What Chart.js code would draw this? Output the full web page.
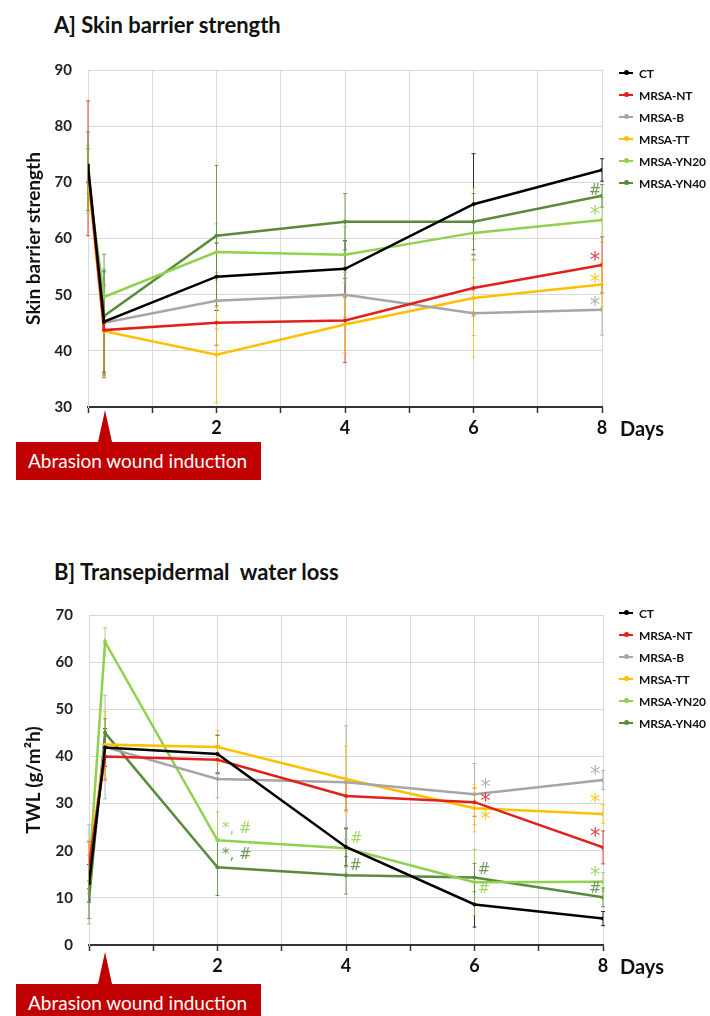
<!DOCTYPE html>
<html>
<head>
<meta charset="utf-8">
<script src="https://cdn.jsdelivr.net/npm/chart.js@4.4.1/dist/chart.umd.min.js"></script>
<style>
  body { margin: 0; width: 710px; height: 1016px; background: #fff; position: relative; overflow: hidden; font-family: Lato, sans-serif; }
  .title { position: absolute; left: 54px; font-weight: bold; font-size: 22px; color: #111; white-space: nowrap; }
  canvas { position: absolute; left: 0; }
  .legend { position: absolute; left: 619px; font-weight: bold; font-size: 12px; letter-spacing: -0.2px; color: #111; white-space: nowrap; }
  .legend div { height: 22px; display: flex; align-items: center; }
  .sw { width: 14px; height: 2px; position: relative; margin-right: 6px; flex: none; }
  .sw i { position: absolute; left: 5px; top: -2px; width: 5px; height: 5px; border-radius: 50%; }
  .days { position: absolute; left: 620px; font-weight: bold; font-size: 20px; color: #111; }
  .box { position: absolute; left: 16px; width: 245px; height: 38px; background: #c00000; color: #fff; font-size: 19px; line-height: 38px; padding-left: 12px; box-sizing: border-box; white-space: nowrap; }
  .box:before { content: ''; position: absolute; left: 82px; top: -32px; border-left: 7px solid transparent; border-right: 7px solid transparent; border-bottom: 32px solid #c00000; }
</style>
</head>
<body>
<div class="title" style="top:11px">A] Skin barrier strength</div>
<canvas id="chartA" width="710" height="400" style="top:40px"></canvas>
<div class="legend" id="legendA" style="top:62px"></div>
<div class="days" style="top:416px">Days</div>
<div class="box" style="top:442px">Abrasion wound induction</div>

<div class="title" style="top:558px">B] Transepidermal&nbsp; water loss</div>
<canvas id="chartB" width="710" height="400" style="top:590px"></canvas>
<div class="legend" id="legendB" style="top:602px"></div>
<div class="days" style="top:954px">Days</div>
<div class="box" style="top:984px">Abrasion wound induction</div>

<script>
// dias de medicion (0.25 = justo despues de la abrasion)
const days = [0, 0.25, 2, 4, 6, 8];
const seriesNames = ['CT', 'MRSA-NT', 'MRSA-B', 'MRSA-TT', 'MRSA-YN20', 'MRSA-YN40'];
const seriesColors = ['#000000', '#e0201c', '#a6a6a6', '#ffc000', '#92d050', '#5a8a3a'];

// A] skin barrier strength
const sbsCT   = [73.0, 45.2, 53.2, 54.6, 66.1, 72.2];
const sbsNT   = [72.5, 43.7, 45.0, 45.4, 51.2, 55.3];
const sbsB    = [72.0, 45.0, 48.9, 50.0, 46.7, 47.3];
const sbsTT   = [71.0, 43.5, 39.3, 44.7, 49.4, 51.8];
const sbsYN20 = [70.5, 49.6, 57.6, 57.1, 61.0, 63.3];
const sbsYN40 = [72.0, 46.2, 60.5, 63.0, 63.0, 67.6];
const sbsErrCT   = [3, 9, 6, 5, 9, 2];
const sbsErrNT   = [12, 8, 4, 7.5, 5, 5];
const sbsErrB    = [4, 9, 5, 4, 4, 4.5];
const sbsErrTT   = [5, 8, 8.5, 5, 10.5, 4];
const sbsErrYN20 = [6, 5, 5, 5, 8, 4];
const sbsErrYN40 = [7, 11, 12.5, 5, 5, 2];

// B] TWL
const twlCT   = [13.1, 41.9, 40.5, 20.8, 8.6, 5.6];
const twlNT   = [17.0, 40.0, 39.3, 31.6, 30.3, 20.7];
const twlB    = [15.0, 42.0, 35.2, 34.5, 32.0, 35.0];
const twlTT   = [16.7, 42.5, 42.0, 35.2, 29.0, 27.8];
const twlYN20 = [15.0, 64.3, 22.2, 20.5, 13.3, 13.4];
const twlYN40 = [9.6, 45.0, 16.5, 14.8, 14.3, 10.1];
const twlErrCT   = [4, 4, 4, 4, 4.8, 1.5];
const twlErrNT   = [5, 5, 3, 3, 3, 3.5];
const twlErrB    = [10.5, 11, 4, 12, 6.5, 2];
const twlErrTT   = [5, 7, 3.5, 7, 5, 2];
const twlErrYN20 = [4, 3, 6, 4, 7, 2];
const twlErrYN40 = [4, 3, 6, 4, 3, 2];

// marcas de significancia: [dia, valor, texto, serie]
const marksA = [
  [7.89, 68.8, '#', 5], [7.89, 65.0, '*', 4], [7.89, 56.8, '*', 1],
  [7.89, 53.0, '*', 3], [7.89, 48.8, '*', 2]
];
const marksB = [
  [2.3, 25.1, '*, #', 4], [2.3, 19.6, '*, #', 5],
  [4.16, 23.0, '#', 4], [4.15, 17.1, '#', 5],
  [6.17, 34.4, '*', 2], [6.17, 31.3, '*', 1], [6.17, 27.5, '*', 3],
  [6.15, 16.4, '#', 5], [6.15, 12.2, '#', 4],
  [7.88, 37.2, '*', 2], [7.88, 31.2, '*', 3], [7.88, 24.0, '*', 1],
  [7.88, 15.8, '*', 4], [7.88, 12.2, '#', 5]
];

const errorBarPlugin = {
  id: 'errorBars',
  beforeDatasetsDraw(chart) {
    const { ctx, scales: { x, y } } = chart;
    ctx.save();
    ctx.lineWidth = 1;
    ctx.globalAlpha = 0.8;
    chart.data.datasets.forEach(ds => {
      ctx.strokeStyle = ds.borderColor;
      ds.data.forEach((p, i) => {
        const e = ds.errors[i];
        const px = x.getPixelForValue(p.x);
        const top = y.getPixelForValue(p.y + e);
        const bot = y.getPixelForValue(p.y - e);
        ctx.beginPath();
        ctx.moveTo(px, top); ctx.lineTo(px, bot);
        ctx.moveTo(px - 2, top); ctx.lineTo(px + 2, top);
        ctx.moveTo(px - 2, bot); ctx.lineTo(px + 2, bot);
        ctx.stroke();
      });
    });
    ctx.restore();
  },
  afterDatasetsDraw(chart, args, opts) {
    const { ctx, scales: { x, y } } = chart;
    ctx.save();
    ctx.textAlign = 'center';
    ctx.textBaseline = 'alphabetic';
    ctx.globalAlpha = 0.85;
    (opts.marks || []).forEach(m => {
      ctx.font = m[2] === '*' ? '21px "DejaVu Sans"' : '15px "DejaVu Sans"';
      ctx.fillStyle = seriesColors[m[3]];
      // centrar el glifo verticalmente en el valor
      const mt = ctx.measureText(m[2].replace(', ', ''));
      const off = (mt.actualBoundingBoxAscent - mt.actualBoundingBoxDescent) / 2;
      ctx.fillText(m[2], x.getPixelForValue(m[0]), y.getPixelForValue(m[1]) + off);
    });
    ctx.restore();
  }
};

function makeDatasets(values, errors) {
  return seriesNames.map((name, s) => ({
    label: name,
    data: days.map((d, i) => ({ x: d, y: values[s][i] })),
    errors: errors[s],
    borderColor: seriesColors[s],
    backgroundColor: seriesColors[s],
    borderWidth: 2.5,
    pointRadius: 2,
    pointBackgroundColor: seriesColors[s],
    pointBorderWidth: 0,
    tension: 0
  }));
}

function makeLegend(id) {
  const el = document.getElementById(id);
  seriesNames.forEach((name, s) => {
    const row = document.createElement('div');
    row.innerHTML = '<span class="sw" style="background:' + seriesColors[s] + '"><i style="background:' + seriesColors[s] + '"></i></span>' + name;
    el.appendChild(row);
  });
}

function renderChart(id, values, errors, marks, yMin, yMax, yTitle, pad, xHeight, yWidth) {
  const ctx = document.getElementById(id).getContext('2d');
  new Chart(ctx, {
    type: 'line',
    data: { datasets: makeDatasets(values, errors) },
    plugins: [errorBarPlugin],
    options: {
      responsive: false,
      animation: false,
      layout: { padding: pad },
      scales: {
        x: {
          type: 'linear',
          min: 0,
          max: 8,
          afterFit: s => { s.height = xHeight; },
          grid: { color: '#d9d9d9', tickColor: '#333', tickLength: 6, tickWidth: 1.5 },
          border: { color: '#333', width: 2 },
          ticks: {
            stepSize: 1,
            autoSkip: false,
            maxRotation: 0,
            padding: 4,
            color: '#111',
            font: { family: 'Lato', size: 18, weight: 'bold' },
            callback: v => (v > 0 && v % 2 === 0) ? v : ''
          }
        },
        y: {
          min: yMin,
          max: yMax,
          afterFit: s => { s.width = yWidth; },
          grid: { color: '#d9d9d9', drawTicks: false },
          border: { color: '#d9d9d9' },
          ticks: {
            stepSize: 10,
            padding: 16,
            color: '#222',
            font: { family: 'Lato', size: 15, weight: 'bold' }
          },
          title: {
            display: true,
            text: yTitle,
            color: '#111',
            padding: 2,
            font: { family: 'Lato', size: 19, weight: 'bold' }
          }
        }
      },
      plugins: {
        legend: { display: false },
        tooltip: { enabled: false },
        errorBars: { marks: marks }
      }
    }
  });
}

renderChart('chartA',
  [sbsCT, sbsNT, sbsB, sbsTT, sbsYN20, sbsYN40],
  [sbsErrCT, sbsErrNT, sbsErrB, sbsErrTT, sbsErrYN20, sbsErrYN40],
  marksA, 30, 90, 'Skin barrier strength',
  { top: 30, left: 20, right: 108, bottom: 0 }, 33, 68);

renderChart('chartB',
  [twlCT, twlNT, twlB, twlTT, twlYN20, twlYN40],
  [twlErrCT, twlErrNT, twlErrB, twlErrTT, twlErrYN20, twlErrYN40],
  marksB, 0, 70, 'TWL (g/m²h)',
  { top: 19, left: 20, right: 107, bottom: 0 }, 45, 69);

makeLegend('legendA');
makeLegend('legendB');
</script>
</body>
</html>
